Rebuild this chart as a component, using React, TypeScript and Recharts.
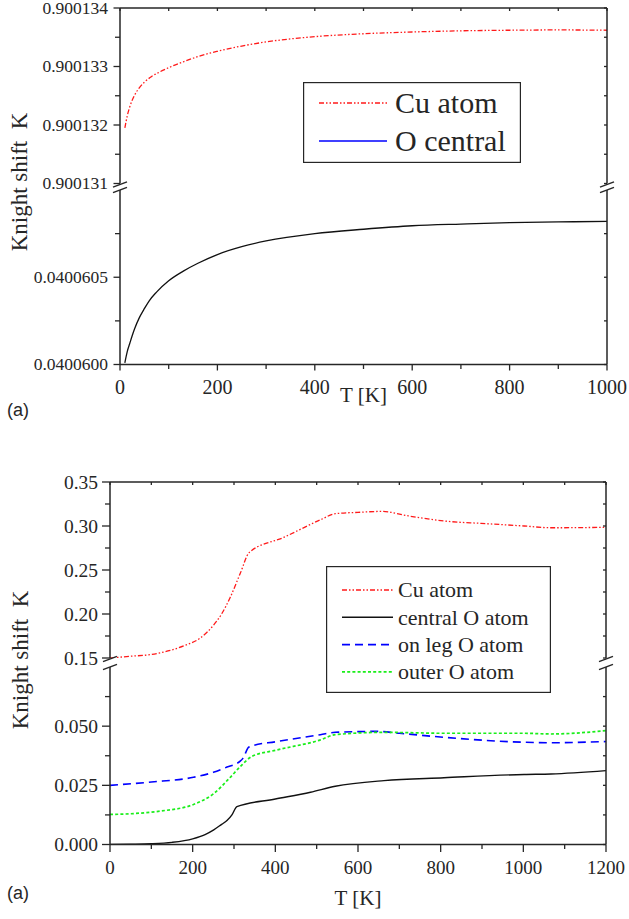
import React from 'react';
import { LineChart, Line, XAxis, YAxis, Legend, Label } from 'recharts';

const PAGE_W = 629;
const PAGE_H = 919;
const SERIF = '"Liberation Serif", "DejaVu Serif", serif';
const SANS = '"Liberation Sans", Arial, sans-serif';
const INK = '#262626';

// ---------- panel 1 : 0 - 1000 K ----------
const tempCuA = [10, 15, 20, 30, 40, 50, 65, 80, 100, 130, 160, 200, 250, 300, 400, 500, 600, 700, 800, 900, 1000];
const shiftCuA = [
  0.90013195, 0.90013216, 0.90013231, 0.90013251, 0.90013264, 0.90013273, 0.90013283, 0.9001329,
  0.90013298, 0.90013308, 0.90013317, 0.90013326, 0.90013335, 0.90013342, 0.90013351, 0.90013356,
  0.90013359, 0.90013361, 0.90013362, 0.900133625, 0.90013362,
];
const tempOA = [10, 15, 20, 25, 30, 40, 50, 60, 75, 100, 130, 160, 200, 250, 300, 400, 500, 600, 700, 800, 900, 1000];
const shiftOA = [
  0.04006001, 0.040060075, 0.04006012, 0.040060165, 0.040060205, 0.04006027, 0.04006032,
  0.040060365, 0.040060415, 0.04006048, 0.040060535, 0.04006058, 0.04006063, 0.040060675,
  0.040060708, 0.04006075, 0.040060775, 0.040060795, 0.040060805, 0.040060813, 0.040060817,
  0.04006082,
];
const xTicksA = [0, 100, 200, 300, 400, 500, 600, 700, 800, 900, 1000];
const upperTicksA = [0.900131, 0.9001315, 0.900132, 0.9001325, 0.900133, 0.9001335, 0.900134];
const lowerTicksA = [0.04006, 0.04006025, 0.0400605, 0.04006075];

// ---------- panel 2 : 0 - 1200 K ----------
const tempCuB = [0, 50, 100, 140, 180, 218, 250, 270, 291, 315, 337, 420, 509, 545, 600, 659, 719, 824, 897, 1002, 1067, 1200];
const shiftCuB = [
  0.15, 0.152, 0.154, 0.158, 0.164, 0.1726, 0.187, 0.2, 0.219, 0.246, 0.27, 0.287, 0.307, 0.314,
  0.3155, 0.3166, 0.3117, 0.305, 0.303, 0.3, 0.298, 0.2985,
];
const tempCentralB = [0, 50, 100, 150, 200, 230, 251, 270, 283, 295, 307, 400, 485, 545, 663, 808, 1002, 1067, 1200];
const shiftCentralB = [
  0, 0.0001, 0.0003, 0.0009, 0.0024, 0.0042, 0.0062, 0.0085, 0.0101, 0.0125, 0.016, 0.0192, 0.0221,
  0.0246, 0.027, 0.0282, 0.0296, 0.0298, 0.0312,
];
const tempLegB = [0, 100, 202, 250, 283, 315, 322, 335, 343, 400, 509, 545, 646, 700, 808, 1002, 1067, 1200];
const shiftLegB = [
  0.025, 0.0264, 0.0284, 0.0305, 0.0327, 0.0352, 0.0365, 0.041, 0.0416, 0.0434, 0.0464, 0.0474,
  0.0478, 0.047, 0.0453, 0.0432, 0.043, 0.0435,
];
const tempOuterB = [0, 60, 121, 202, 250, 291, 315, 343, 400, 509, 545, 663, 808, 1002, 1067, 1200];
const shiftOuterB = [
  0.0127, 0.0131, 0.0141, 0.0169, 0.0214, 0.0284, 0.0329, 0.0372, 0.0398, 0.0442, 0.0464, 0.0474,
  0.047, 0.047, 0.0467, 0.0481,
];
const xTicksB = [0, 100, 200, 300, 400, 500, 600, 700, 800, 900, 1000, 1100, 1200];
const upperTicksB = [0.15, 0.175, 0.2, 0.225, 0.25, 0.275, 0.3, 0.325, 0.35];
const lowerTicksB = [0, 0.0125, 0.025, 0.0375, 0.05, 0.0625];

const pts = (t: number[], k: number[]) => t.map((T, i) => ({ T, K: k[i] }));

interface SeriesDef {
  name: string;
  data: { T: number; K: number }[];
  stroke: string;
  width: number;
  dash?: string;
  legendStroke?: string;
}

const DASH_DOT_DOT = '5 2 1.5 2 1.5 2';

const cuA: SeriesDef = { name: 'Cu atom', data: pts(tempCuA, shiftCuA), stroke: '#ff1a1a', width: 1.3, dash: DASH_DOT_DOT };
const oA: SeriesDef = { name: 'O central', data: pts(tempOA, shiftOA), stroke: '#111', width: 1.3, legendStroke: '#0000ff' };

const cuB: SeriesDef = { name: 'Cu atom', data: pts(tempCuB, shiftCuB), stroke: '#ff1a1a', width: 1.3, dash: DASH_DOT_DOT };
const centralB: SeriesDef = { name: 'central O atom', data: pts(tempCentralB, shiftCentralB), stroke: '#111', width: 1.4 };
const legB: SeriesDef = { name: 'on leg O atom', data: pts(tempLegB, shiftLegB), stroke: '#0000ff', width: 1.6, dash: '8 5' };
const outerB: SeriesDef = { name: 'outer O atom', data: pts(tempOuterB, shiftOuterB), stroke: '#1aee1a', width: 1.7, dash: '3 2.2' };

type Side = 'left' | 'right' | 'top' | 'bottom';
interface TickStyle {
  side: Side;
  major: number;
  minor: number;
  fontSize?: number;
  gap?: number;
  fmt?: (v: number) => string;
}

// major ticks sit at even indices of every tick list, minor ticks in between
const makeTick = (s: TickStyle) => (props: any) => {
  const { x, y, payload } = props;
  const index = props.index ?? payload?.index ?? 0;
  const major = index % 2 === 0;
  const len = major ? s.major : s.minor;
  let line;
  if (s.side === 'left') line = { x1: x - len, x2: x, y1: y, y2: y };
  else if (s.side === 'right') line = { x1: x - len, x2: x, y1: y, y2: y };
  else line = { x1: x, x2: x, y1: y, y2: y + len };
  let label = null;
  if (major && s.fmt) {
    const style = { fill: INK, fontFamily: SERIF, fontSize: s.fontSize };
    // keep the topmost label inside the page
    const dy = s.side === 'left' && y < 12 ? '0.5em' : '0.34em';
    label =
      s.side === 'left' ? (
        <text x={x - (s.gap ?? 10)} y={y} dy={dy} textAnchor="end" style={style}>
          {s.fmt(payload.value)}
        </text>
      ) : (
        <text x={x} y={y + (s.gap ?? 28)} textAnchor="middle" style={style}>
          {s.fmt(payload.value)}
        </text>
      );
  }
  return (
    <g>
      <line {...line} stroke={INK} strokeWidth={1.3} />
      {label}
    </g>
  );
};

interface LegendDef {
  x: number;
  y: number;
  w: number;
  h: number;
  firstRow: number;
  rowStep: number;
  lineX: number;
  lineLen: number;
  textX: number;
  font: number;
}

const LegendBox = ({ items, cfg }: { items: SeriesDef[]; cfg: LegendDef }) => (
  <svg width={cfg.w} height={cfg.h} style={{ display: 'block' }}>
    <rect x={0.6} y={0.6} width={cfg.w - 1.2} height={cfg.h - 1.2} fill="#fff" stroke={INK} strokeWidth={1.2} />
    {items.map((s, i) => {
      const cy = cfg.firstRow + i * cfg.rowStep;
      return (
        <g key={s.name}>
          <line
            x1={cfg.lineX}
            x2={cfg.lineX + cfg.lineLen}
            y1={cy}
            y2={cy}
            stroke={s.legendStroke ?? s.stroke}
            strokeWidth={s.width + 0.2}
            strokeDasharray={s.dash}
          />
          <text x={cfg.textX} y={cy} dy="0.33em" style={{ fontFamily: SERIF, fontSize: cfg.font, fill: INK }}>
            {s.name}
          </text>
        </g>
      );
    })}
  </svg>
);

interface PanelDef {
  plotLeft: number;
  plotRight: number;
  upperTop: number;
  upperBottom: number;
  lowerTop: number;
  lowerBottom: number;
  xDomain: [number, number];
  xTicks: number[];
  xFont: number;
  upperDomain: [number, number];
  upperTicks: number[];
  upperFmt: (v: number) => string;
  lowerDomain: [number, number];
  lowerTicks: number[];
  lowerFmt: (v: number) => string;
  yFont: number;
  yGap: number;
  yMajor: number;
  xMajor: number;
  upper: SeriesDef[];
  lower: SeriesDef[];
  legendItems: SeriesDef[];
  legend: LegendDef;
  xLabelBaseline: number;
  yLabelX: number;
  yLabelY: number;
  yLabelFont: number;
  tagBaseline: number;
}

const TOP_AXIS_H = 8;
const TOP_PAD = 14;
const UPPER_PAD = 10;
const LOWER_PAD = 4;

const BrokenPanel = ({ p }: { p: PanelDef }) => {
  const rightW = PAGE_W - p.plotRight;
  const upperDivTop = p.upperTop - TOP_AXIS_H - TOP_PAD;
  const upperH = TOP_PAD + TOP_AXIS_H + (p.upperBottom - p.upperTop) + UPPER_PAD;
  const xAxisH = p.xLabelBaseline - p.lowerBottom + 6;
  const lowerDivTop = p.lowerTop - LOWER_PAD;
  const lowerH = LOWER_PAD + (p.lowerBottom - p.lowerTop) + xAxisH;
  const axisLine = { stroke: INK, strokeWidth: 1.5 };

  const drawLine = (s: SeriesDef) => (
    <Line
      key={s.name}
      data={s.data}
      dataKey="K"
      yAxisId="l"
      type="monotone"
      stroke={s.stroke}
      strokeWidth={s.width}
      strokeDasharray={s.dash}
      dot={false}
      activeDot={false}
      isAnimationActive={false}
    />
  );

  const slash = (ax: number, cy: number, k: string) => (
    <line key={k} x1={ax - 7} y1={cy + 2.6} x2={ax + 7} y2={cy - 2.6} stroke={INK} strokeWidth={1.5} />
  );

  return (
    <>
      <div style={{ position: 'absolute', left: 0, top: lowerDivTop }}>
        <LineChart width={PAGE_W} height={lowerH} margin={{ top: LOWER_PAD, right: 0, bottom: 0, left: 0 }}>
          <XAxis
            dataKey="T"
            type="number"
            domain={p.xDomain}
            ticks={p.xTicks}
            interval={0}
            height={xAxisH}
            axisLine={axisLine}
            tickLine={false}
            tickSize={0}
            tickMargin={0}
            tick={makeTick({ side: 'bottom', major: p.xMajor, minor: 4.5, fontSize: p.xFont, gap: 29, fmt: (v) => String(v) })}
          >
            <Label
              value="T [K]"
              position="insideBottom"
              offset={6}
              style={{ fontFamily: SERIF, fontSize: 21, fill: INK }}
            />
          </XAxis>
          <YAxis
            yAxisId="l"
            type="number"
            domain={p.lowerDomain}
            allowDataOverflow
            ticks={p.lowerTicks}
            interval={0}
            width={p.plotLeft}
            axisLine={axisLine}
            tickLine={false}
            tickSize={0}
            tickMargin={0}
            tick={makeTick({ side: 'left', major: p.yMajor, minor: 5, fontSize: p.yFont, gap: p.yGap, fmt: p.lowerFmt })}
          />
          <YAxis
            yAxisId="r"
            orientation="right"
            type="number"
            domain={p.lowerDomain}
            allowDataOverflow
            ticks={p.lowerTicks}
            interval={0}
            width={rightW}
            axisLine={axisLine}
            tickLine={false}
            tickSize={0}
            tickMargin={0}
            tick={makeTick({ side: 'right', major: 3, minor: 3 })}
          />
          {p.lower.map(drawLine)}
        </LineChart>
      </div>
      <div style={{ position: 'absolute', left: 0, top: upperDivTop }}>
        <LineChart width={PAGE_W} height={upperH} margin={{ top: TOP_PAD, right: 0, bottom: UPPER_PAD, left: 0 }}>
          <XAxis
            dataKey="T"
            type="number"
            orientation="top"
            domain={p.xDomain}
            ticks={p.xTicks}
            interval={0}
            height={TOP_AXIS_H}
            axisLine={axisLine}
            tickLine={false}
            tickSize={0}
            tickMargin={0}
            tick={makeTick({ side: 'top', major: 3, minor: 3 })}
          />
          <YAxis
            yAxisId="l"
            type="number"
            domain={p.upperDomain}
            allowDataOverflow
            ticks={p.upperTicks}
            interval={0}
            width={p.plotLeft}
            axisLine={axisLine}
            tickLine={false}
            tickSize={0}
            tickMargin={0}
            tick={makeTick({ side: 'left', major: p.yMajor, minor: 5, fontSize: p.yFont, gap: p.yGap, fmt: p.upperFmt })}
          />
          <YAxis
            yAxisId="r"
            orientation="right"
            type="number"
            domain={p.upperDomain}
            allowDataOverflow
            ticks={p.upperTicks}
            interval={0}
            width={rightW}
            axisLine={axisLine}
            tickLine={false}
            tickSize={0}
            tickMargin={0}
            tick={makeTick({ side: 'right', major: 3, minor: 3 })}
          />
          {p.upper.map(drawLine)}
          <Legend
            layout="horizontal"
            align="center"
            verticalAlign="middle"
            width={p.legend.w}
            height={p.legend.h}
            wrapperStyle={{ left: p.legend.x, top: p.legend.y - upperDivTop, width: p.legend.w, height: p.legend.h }}
            content={() => <LegendBox items={p.legendItems} cfg={p.legend} />}
          />
        </LineChart>
      </div>
      <svg
        width={PAGE_W}
        height={PAGE_H}
        style={{ position: 'absolute', left: 0, top: 0, pointerEvents: 'none' }}
      >
        {[p.plotLeft, p.plotRight].map((ax) => (
          <g key={ax}>
            {slash(ax, p.upperBottom + 1, 'u')}
            {slash(ax, p.lowerTop + 0.5, 'd')}
          </g>
        ))}
        <text
          x={p.yLabelX}
          y={p.yLabelY}
          transform={`rotate(-90 ${p.yLabelX} ${p.yLabelY})`}
          textAnchor="middle"
          style={{ fontFamily: SERIF, fontSize: p.yLabelFont, fill: INK, whiteSpace: 'pre' }}
        >
          {'Knight shift  K'}
        </text>
        <text x={7} y={p.tagBaseline} style={{ fontFamily: SANS, fontSize: 18, fill: INK }}>
          (a)
        </text>
      </svg>
    </>
  );
};

const panelA: PanelDef = {
  plotLeft: 120,
  plotRight: 607,
  upperTop: 8,
  upperBottom: 183.5,
  lowerTop: 189.5,
  lowerBottom: 364,
  xDomain: [0, 1000],
  xTicks: xTicksA,
  xFont: 20,
  upperDomain: [0.900131, 0.900134],
  upperTicks: upperTicksA,
  upperFmt: (v) => v.toFixed(6),
  lowerDomain: [0.04006, 0.040061],
  lowerTicks: lowerTicksA,
  lowerFmt: (v) => v.toFixed(7),
  yFont: 17.5,
  yGap: 12,
  yMajor: 6.5,
  xMajor: 6,
  upper: [cuA],
  lower: [oA],
  legendItems: [cuA, oA],
  legend: { x: 303, y: 82, w: 218, h: 81, firstRow: 21, rowStep: 38, lineX: 16, lineLen: 68, textX: 92, font: 30 },
  xLabelBaseline: 401,
  yLabelX: 27,
  yLabelY: 182,
  yLabelFont: 23,
  tagBaseline: 416,
};

const panelB: PanelDef = {
  plotLeft: 110,
  plotRight: 606,
  upperTop: 482,
  upperBottom: 658,
  lowerTop: 666.5,
  lowerBottom: 844,
  xDomain: [0, 1200],
  xTicks: xTicksB,
  xFont: 19,
  upperDomain: [0.15, 0.35],
  upperTicks: upperTicksB,
  upperFmt: (v) => v.toFixed(2),
  lowerDomain: [0, 0.075],
  lowerTicks: lowerTicksB,
  lowerFmt: (v) => v.toFixed(3),
  yFont: 19.5,
  yGap: 12,
  yMajor: 8,
  xMajor: 7.5,
  upper: [cuB],
  lower: [centralB, legB, outerB],
  legendItems: [cuB, centralB, legB, outerB],
  legend: { x: 326, y: 566, w: 225, h: 127, firstRow: 24, rowStep: 27.3, lineX: 16, lineLen: 51, textX: 72, font: 22 },
  xLabelBaseline: 904,
  yLabelX: 28,
  yLabelY: 660,
  yLabelFont: 23,
  tagBaseline: 899,
};

export default function App() {
  return (
    <div style={{ position: 'absolute', left: 0, top: 0, width: PAGE_W, height: PAGE_H, background: '#fff' }}>
      <BrokenPanel p={panelA} />
      <BrokenPanel p={panelB} />
    </div>
  );
}
